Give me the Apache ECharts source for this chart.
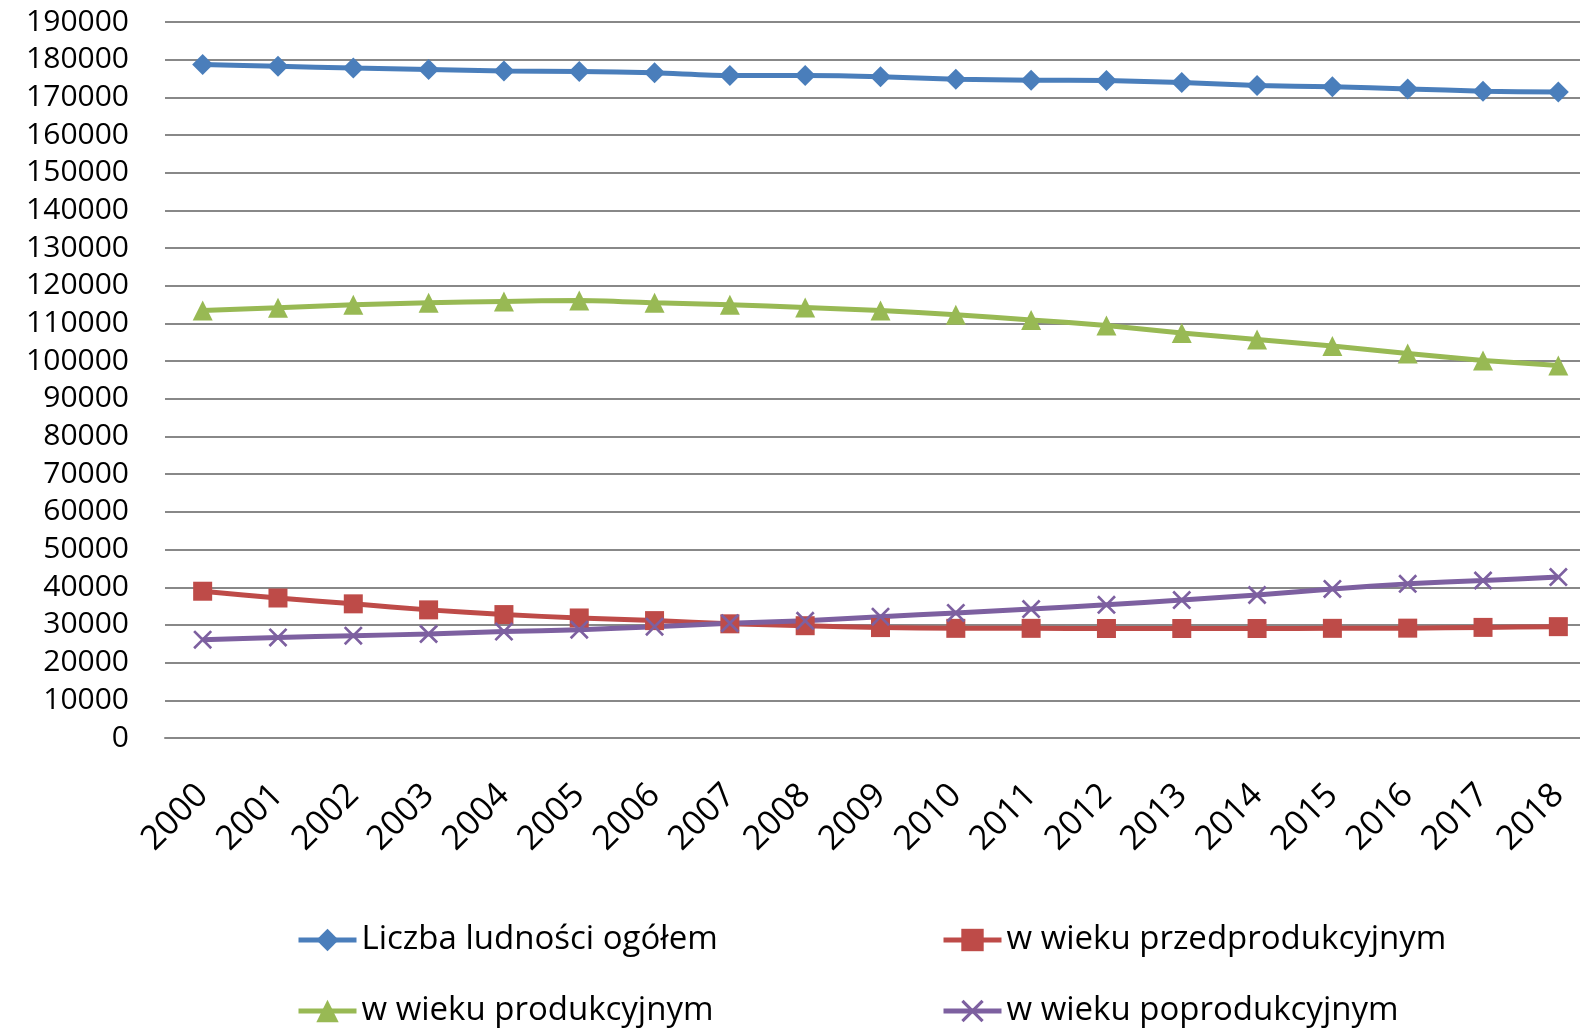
<!DOCTYPE html>
<html>
<head>
<meta charset="utf-8">
<script src="https://cdn.jsdelivr.net/npm/echarts@6/dist/echarts.min.js"></script>
<style>
  html, body { margin: 0; padding: 0; background: #fff; overflow: hidden; }
  /* the plot area runs a little past the right edge of the picture */
  #chart { width: 1596px; height: 1030px; }
</style>
</head>
<body>
<div id="chart"></div>
<script>
const years = ['2000','2001','2002','2003','2004','2005','2006','2007','2008','2009',
  '2010','2011','2012','2013','2014','2015','2016','2017','2018'];

// ludność ogółem
const ogolem = [178700, 178250, 177800, 177400, 177000, 176850, 176500, 175800, 175800, 175500,
  174800, 174550, 174450, 173950, 173150, 172800, 172250, 171650, 171400];
const przedprod = [38950, 37150, 35600, 34000, 32750, 31850, 31150, 30300, 29800, 29300,
  29100, 29100, 29050, 29050, 29050, 29100, 29150, 29350, 29550];
const prod = [113450, 114150, 114950, 115500, 115850, 116100, 115500, 114950, 114250, 113450,
  112300, 110950, 109450, 107500, 105750, 104050, 102050, 100200, 98850];
const poprod = [26100, 26700, 27150, 27600, 28250, 28750, 29550, 30450, 31100, 32200,
  33200, 34200, 35350, 36600, 37950, 39550, 40900, 41800, 42700];

const names = ['Liczba ludności ogółem', 'w wieku przedprodukcyjnym', 'w wieku produkcyjnym', 'w wieku poprodukcyjnym'];

const font = '"Open Sans", "DejaVu Sans", sans-serif';
const crossPath = 'path://M0,1L1,0L5,4L9,0L10,1L6,5L10,9L9,10L5,6L1,10L0,9L4,5Z';

function mkSeries(name, data, color, symbol, size) {
  return {
    name: name,
    type: 'line',
    data: data,
    smooth: 0.25,
    symbol: symbol,
    symbolSize: size,
    showAllSymbol: true,
    lineStyle: { color: color, width: 5 },
    itemStyle: { color: color },
    emphasis: { disabled: true },
    animation: false
  };
}

function mkLegend(name, left, top) {
  return {
    data: [name],
    left: left,
    top: top,
    itemWidth: 58,
    itemHeight: 28,
    lineStyle: { width: 5 },
    textStyle: { fontFamily: font, fontSize: 33, color: '#000', lineHeight: 40 },
    selectedMode: false
  };
}

const chart = echarts.init(document.getElementById('chart'));
chart.setOption({
  backgroundColor: '#fff',
  animation: false,
  grid: { left: 165, right: 0, top: 22, bottom: 292, containLabel: false },
  legend: [
    mkLegend(names[0], 291, 915),
    mkLegend(names[1], 936, 915),
    mkLegend(names[2], 291, 986),
    mkLegend(names[3], 936, 986)
  ],
  xAxis: {
    type: 'category',
    data: years,
    boundaryGap: true,
    axisLine: { show: true, lineStyle: { color: '#888', width: 2 } },
    axisTick: { show: false },
    axisLabel: {
      interval: 0,
      rotate: 45,
      margin: 52,
      fontFamily: font,
      fontSize: 34,
      color: '#000'
    }
  },
  yAxis: {
    type: 'value',
    min: 0,
    max: 190000,
    interval: 10000,
    axisLine: { show: false },
    axisTick: { show: false },
    splitLine: { lineStyle: { color: '#888', width: 2 } },
    axisLabel: {
      margin: 36,
      fontFamily: font,
      fontSize: 30,
      color: '#000',
      formatter: function (v) { return String(v); }
    }
  },
  series: [
    mkSeries(names[0], ogolem, '#4A7EBB', 'diamond', 21),
    mkSeries(names[1], przedprod, '#BE4B48', 'rect', 19),
    mkSeries(names[2], prod, '#98B954', 'triangle', 20),
    mkSeries(names[3], poprod, '#7D60A0', crossPath, 19)
  ]
});
</script>
</body>
</html>
